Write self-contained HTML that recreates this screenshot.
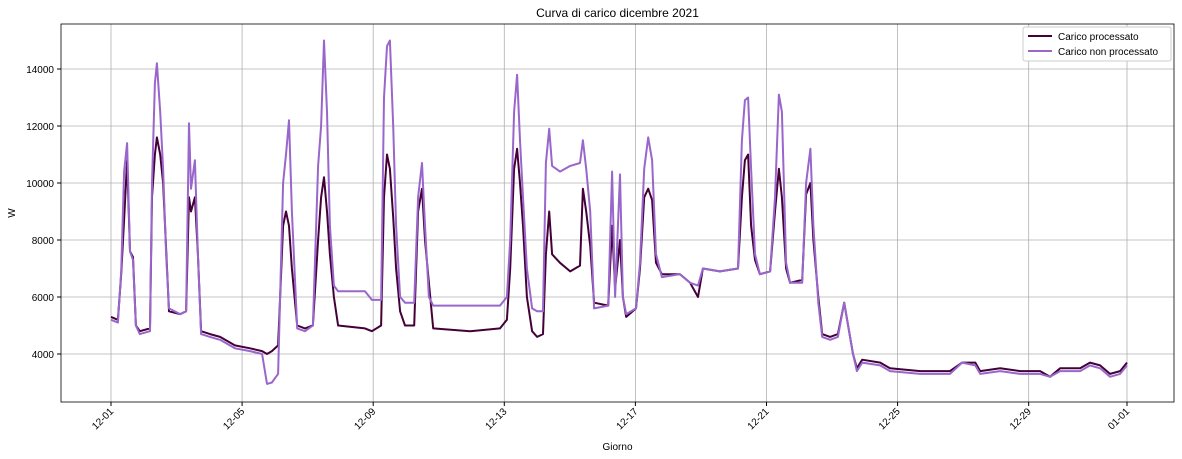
<!DOCTYPE html>
<html><head><meta charset="utf-8"><style>
body{margin:0;background:#fff;font-family:"Liberation Sans",sans-serif}
svg{display:block}
</style></head><body>
<svg id="chart" width="1182" height="459" xmlns="http://www.w3.org/2000/svg"></svg>
<script>
const days=[0,0.21,0.31,0.40,0.49,0.58,0.67,0.76,0.88,1.19,1.25,1.34,1.40,1.50,1.59,1.68,1.77,2.11,2.29,2.38,2.44,2.56,2.65,2.75,3.02,3.33,3.78,4.24,4.61,4.76,4.91,5.10,5.25,5.34,5.43,5.52,5.68,5.92,6.16,6.32,6.41,6.50,6.59,6.68,6.80,6.93,7.75,7.96,8.24,8.33,8.42,8.51,8.61,8.70,8.82,8.97,9.25,9.37,9.49,9.58,9.70,9.83,10.96,11.87,12.08,12.18,12.30,12.39,12.48,12.57,12.69,12.85,13.00,13.18,13.27,13.37,13.46,13.70,14.01,14.31,14.40,14.50,14.62,14.74,15.17,15.29,15.38,15.53,15.62,15.72,16.02,16.14,16.27,16.39,16.51,16.63,16.81,17.36,17.67,17.91,18.06,18.58,19.13,19.25,19.34,19.44,19.53,19.65,19.80,20.11,20.26,20.38,20.47,20.60,20.72,21.09,21.21,21.34,21.43,21.58,21.70,21.94,22.18,22.37,22.49,22.64,22.76,22.92,23.47,23.77,24.69,25.60,25.97,26.37,26.52,27.13,27.74,28.35,28.65,28.96,29.57,29.87,30.18,30.48,30.79,31.00];
const processed=[5300,5200,6800,8700,10800,7600,7400,5000,4800,4900,9500,11000,11600,11000,10000,7700,5500,5400,5500,9500,9000,9500,7500,4800,4700,4600,4300,4200,4100,4000,4100,4300,8500,9000,8500,7000,5000,4900,5000,8000,9500,10200,9000,7500,6000,5000,4900,4800,5000,9500,11000,10500,8800,7000,5500,5000,5000,9000,9800,8000,6500,4900,4800,4900,5200,7000,10500,11200,10000,8500,6000,4800,4600,4700,7500,9000,7500,7200,6900,7100,9800,9000,7800,5800,5700,8500,6300,8000,6000,5300,5600,7000,9500,9800,9400,7200,6800,6800,6500,6000,7000,6900,7000,9500,10800,11000,8500,7300,6800,6900,9000,10500,9500,7000,6500,6600,9600,10000,8000,6000,4700,4600,4700,5800,5000,4000,3500,3800,3700,3500,3400,3400,3700,3700,3400,3500,3400,3400,3200,3500,3500,3700,3600,3300,3400,3700];
const unprocessed=[5200,5100,6900,10400,11400,7600,7300,5000,4700,4800,10000,13500,14200,12500,10500,7500,5600,5400,5500,12100,9800,10800,7500,4700,4600,4500,4200,4100,4000,2950,3000,3300,10000,11000,12200,9000,4900,4800,5000,10600,12000,15000,12500,8500,6400,6200,6200,5900,5900,13000,14800,15000,12000,8500,6000,5800,5800,9500,10700,8500,6000,5700,5700,5700,6000,8000,12500,13800,11500,9500,7000,5600,5500,5500,10700,11900,10600,10400,10600,10700,11500,10500,9000,5600,5700,10400,6000,10300,6000,5400,5600,7200,10500,11600,10800,7500,6700,6800,6500,6400,7000,6900,7000,11500,12900,13000,10500,7500,6800,6900,9500,13100,12500,7200,6500,6500,10000,11200,8500,5800,4600,4500,4600,5800,5000,4000,3400,3700,3600,3400,3300,3300,3700,3600,3300,3400,3300,3300,3200,3400,3400,3600,3500,3200,3300,3600];
const yTicks=[4000,6000,8000,10000,12000,14000];
const xTickDays=[0,4,8,12,16,20,24,28,31];
const xTickLabels=["12-01","12-05","12-09","12-13","12-17","12-21","12-25","12-29","01-01"];

const NS="http://www.w3.org/2000/svg";
const svg=document.getElementById('chart');
const L=61,R=1174,T=24,B=402;
const x=d=>111+d*(1016/31);
const y=v=>354-(v-4000)*0.0285;
function mk(tag,attrs,parent){const e=document.createElementNS(NS,tag);for(const k in attrs)e.setAttribute(k,attrs[k]);(parent||svg).appendChild(e);return e;}

const grid=mk('g',{});


yTicks.forEach(v=>{
  const l=mk('line',{x1:L,x2:R,y1:y(v),y2:y(v),stroke:'#b0b0b0','stroke-width':0.8},grid);
  
  
  mk('line',{x1:L-4,x2:L,y1:y(v),y2:y(v),stroke:'#000'});
  const t=mk('text',{x:L-7,y:y(v)+4,'text-anchor':'end','font-size':10});
  
  
  t.textContent=v;
});
xTickDays.forEach((d,i)=>{
  const l=mk('line',{x1:x(d),x2:x(d),y1:T,y2:B,stroke:'#b0b0b0','stroke-width':0.8},grid);
  
  
  mk('line',{x1:x(d),x2:x(d),y1:B,y2:B+4,stroke:'#000'});
  const t=mk('text',{x:x(d)+3,y:B+10,'text-anchor':'end','font-size':10,transform:`rotate(-45 ${x(d)+3} ${B+10})`});
  
  
  t.textContent=xTickLabels[i];
});
function series(vals,color,name){
  const p=mk('path',{d:vals.map((v,i)=>(i?'L':'M')+x(days[i]).toFixed(1)+','+y(v).toFixed(1)).join(''),fill:'none',stroke:color,'stroke-width':2,'stroke-linejoin':'round'});
  
  
}
series(processed,'#440038','line-carico-processato');
series(unprocessed,'#9966cc','line-carico-non-processato');

const frame=mk('rect',{x:L,y:T,width:R-L,height:B-T,fill:'none',stroke:'#000','stroke-width':0.8});


const title=mk('text',{x:(L+R)/2,y:17,'text-anchor':'middle','font-size':12});


title.textContent='Curva di carico dicembre 2021';
const xt=mk('text',{x:(L+R)/2,y:450,'text-anchor':'middle','font-size':10});


xt.textContent='Giorno';
const yt=mk('text',{x:15,y:213,'text-anchor':'middle','font-size':10,transform:'rotate(-90 15 213)'});


yt.textContent='W';

const lg=mk('g',{});


mk('rect',{x:1023,y:27,width:148,height:34,fill:'#fff',stroke:'#ccc',rx:2},lg);
[['Carico processato','#440038'],['Carico non processato','#9966cc']].forEach((e,i)=>{
  const g=mk('g',{},lg);
  
  
  mk('line',{x1:1028,x2:1052,y1:36+i*15,y2:36+i*15,stroke:e[1],'stroke-width':2},g);
  const t=mk('text',{x:1058,y:40+i*15,'font-size':10},g);
  t.textContent=e[0];
});
</script>
</body></html>
